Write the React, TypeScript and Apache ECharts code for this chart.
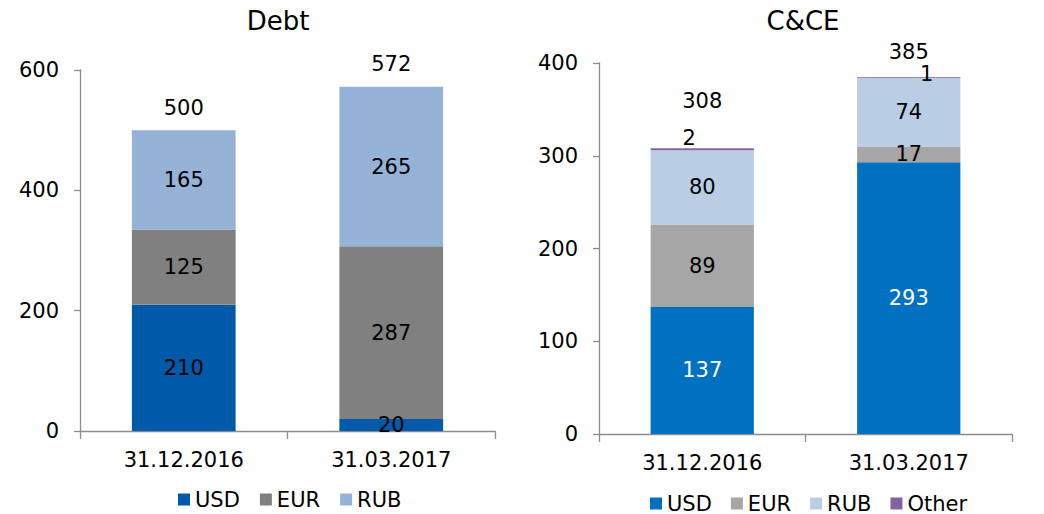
import React, { useEffect, useRef } from "react";
import * as echarts from "echarts";

const categories = ["31.12.2016", "31.03.2017"];

const debtTitle = "Debt";
const debtNames = ["USD", "EUR", "RUB"];
const debtUSD = [210, 20];
const debtEUR = [125, 287];
const debtRUB = [165, 265];
const debtTicks = [0, 200, 400, 600];

const cceTitle = "C&CE";
const cceNames = ["USD", "EUR", "RUB", "Other"];
const cceUSD = [137, 293];
const cceEUR = [89, 17];
const cceRUB = [80, 74];
const cceOther = [2, 1];
const cceTicks = [0, 100, 200, 300, 400];

const FONT = "DejaVu Sans";
const AXIS_COLOR = "#8c8c8c";
const FS = 21;

type Cfg = {
  title: string;
  titleX: number;
  grid: { left: number; right: number; top: number; bottom: number };
  ticks: number[];
  names: string[];
  values: number[][];
  colors: string[];
  labelColors: string[];
  totalDistances: number[];
  legendLeft: number;
  legendTop: number;
  legendGap: number;
  topLabelOffsets?: { offset: number[]; distance: number }[];
};

function buildOption(c: Cfg) {
  const totals = categories.map((_, i) =>
    c.values.reduce((s, arr) => s + arr[i], 0)
  );
  const last = c.values.length - 1;
  const series: any[] = c.values.map((arr, si) => ({
    type: "bar",
    name: c.names[si],
    stack: "s",
    barWidth: "50%",
    barGap: "-100%",
    itemStyle: { color: c.colors[si] },
    label: {
      show: true,
      position: "inside",
      color: c.labelColors[si],
      fontSize: FS,
      fontFamily: FONT,
    },
    data: arr.map((v, i) => {
      if (si === last && c.topLabelOffsets) {
        const o = c.topLabelOffsets[i];
        return {
          value: v,
          label: { position: "top", offset: o.offset, distance: o.distance, color: "#000" },
        };
      }
      return v;
    }),
  }));
  series.push({
    type: "bar",
    name: "Total",
    barWidth: "50%",
    barGap: "-100%",
    silent: true,
    z: 1,
    itemStyle: { color: "rgba(0,0,0,0)" },
    label: {
      show: true,
      position: "top",
      color: "#000",
      fontSize: FS,
      fontFamily: FONT,
    },
    data: totals.map((t, i) => ({ value: t, label: { distance: c.totalDistances[i] } })),
  });
  return {
    animation: false,
    textStyle: { fontFamily: FONT },
    title: {
      text: c.title,
      left: c.titleX,
      top: 3,
      textAlign: "center",
      textStyle: { fontSize: 26, fontWeight: "normal", color: "#000", fontFamily: FONT },
    },
    legend: {
      data: c.names.map((n, i) => ({ name: n, itemStyle: { color: c.colors[i] } })),
      icon: "rect",
      itemWidth: 12,
      itemHeight: 12,
      itemGap: c.legendGap,
      left: c.legendLeft,
      top: c.legendTop,
      selectedMode: false,
      textStyle: { fontSize: FS, color: "#000", fontFamily: FONT },
    },
    grid: { ...c.grid, containLabel: false },
    xAxis: {
      type: "category",
      data: categories,
      axisLine: { show: true, lineStyle: { color: AXIS_COLOR, width: 1.3 } },
      axisTick: { show: true, length: 8, lineStyle: { color: AXIS_COLOR, width: 1.3 } },
      axisLabel: { fontSize: FS, color: "#000", margin: 18, fontFamily: FONT },
    },
    yAxis: {
      type: "value",
      min: c.ticks[0],
      max: c.ticks[c.ticks.length - 1],
      interval: c.ticks[1] - c.ticks[0],
      axisLine: { show: true, lineStyle: { color: AXIS_COLOR, width: 1.3 } },
      axisTick: { show: true, length: 6, lineStyle: { color: AXIS_COLOR, width: 1.3 } },
      splitLine: { show: false },
      axisLabel: { fontSize: FS, color: "#000", margin: 21, fontFamily: FONT },
    },
    series,
  };
}

function Chart({ cfg, left, width }: { cfg: Cfg; left: number; width: number }) {
  const ref = useRef<HTMLDivElement>(null);
  useEffect(() => {
    if (!ref.current) return;
    const chart = echarts.init(ref.current, undefined, { renderer: "svg" });
    chart.setOption(buildOption(cfg));
    return () => chart.dispose();
  }, []);
  return (
    <div
      ref={ref}
      style={{ position: "absolute", left, top: 0, width, height: 514 }}
    />
  );
}

const debtCfg: Cfg = {
  title: debtTitle,
  titleX: 273,
  grid: { left: 80, right: 25, top: 70, bottom: 83 },
  ticks: debtTicks,
  names: debtNames,
  values: [debtUSD, debtEUR, debtRUB],
  colors: ["#005aa9", "#808080", "#95b3d7"],
  labelColors: ["#000", "#000", "#000"],
  totalDistances: [12, 12],
  legendLeft: 173,
  legendTop: 484,
  legendGap: 20,
};

const cceCfg: Cfg = {
  title: cceTitle,
  titleX: 278,
  grid: { left: 79, right: 32, top: 63, bottom: 80 },
  ticks: cceTicks,
  names: cceNames,
  values: [cceUSD, cceEUR, cceRUB, cceOther],
  colors: ["#0070c0", "#a6a6a6", "#b9cde5", "#8064a2"],
  labelColors: ["#fff", "#000", "#000", "#000"],
  totalDistances: [37, 14],
  legendLeft: 125,
  legendTop: 488,
  legendGap: 19,
  topLabelOffsets: [
    { offset: [-13, 0], distance: 0 },
    { offset: [18, 0], distance: -8 },
  ],
};

export default function App() {
  return (
    <div style={{ position: "absolute", left: 0, top: 0, width: 1044, height: 514, background: "#fff" }}>
      <Chart cfg={debtCfg} left={0} width={520} />
      <Chart cfg={cceCfg} left={520} width={524} />
    </div>
  );
}
